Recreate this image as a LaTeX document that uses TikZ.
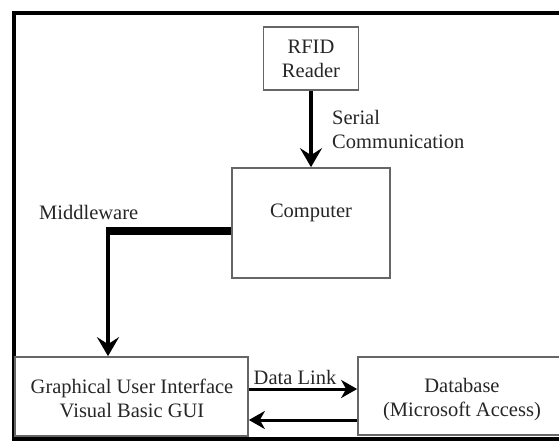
\documentclass[tikz,border=0pt]{standalone}
\usepackage{fontspec}
\setmainfont{Liberation Serif}
\usetikzlibrary{arrows.meta}
\definecolor{boxgray}{HTML}{666666}
\definecolor{txtgray}{HTML}{262626}
\begin{document}
\begin{tikzpicture}[x=1pt,y=-1pt,
  box/.style={draw=boxgray, line width=1.7pt, fill=white, inner sep=0pt},
  txt/.style={text=txtgray, font=\fontsize{20.5}{24}\selectfont, align=center, inner sep=0pt},
  bigarrow/.style={line width=4.5pt, -{Stealth[length=19pt,width=22pt,inset=7pt]}},
  linkarrow/.style={line width=3pt, -{Stealth[length=16pt,width=18pt,inset=5pt]}}
]
\useasboundingbox (0,0) rectangle (559,441);
\clip (0,0) rectangle (559,441);
\fill[white] (0,0) rectangle (559,441);
% outer frame
\draw[line width=4pt] (13.5,13.5) rectangle (620,438.5);
% boxes
\node[box, minimum width=95pt, minimum height=63pt] (rfid) at (311,58.5) {};
\node[txt] (rfidtext) at (311,59) {RFID\\Reader};
\node[box, minimum width=158pt, minimum height=110pt] (computer) at (311,223) {};
\node[txt] (computertext) at (311,213) {Computer};
\node[box, minimum width=233pt, minimum height=79pt] (gui) at (131.5,396.5) {};
\node[txt] (guitext) at (132,398.5) {Graphical User Interface\\Visual Basic GUI};
\node[box, minimum width=208pt, minimum height=78pt] (db) at (462,396) {};
\node[txt] (dbtext) at (462,399.5) {Database\\(Microsoft Access)};
% labels
\node[txt, align=left, anchor=west] (serial) at (332,129.5) {Serial\\Communication};
\node[txt, anchor=west] (middleware) at (39,212) {Middleware};
\node[txt] (datalink) at (295,377) {Data Link};
% connectors
\draw[bigarrow] (rfid.south) -- (computer.north);
\coordinate (mwcorner) at (108,231);
\draw[line width=8pt] (computer.west |- mwcorner) -- ([xshift=-2pt]mwcorner);
\draw[bigarrow] ([yshift=4pt]mwcorner) -- (gui.north -| mwcorner);
\draw[linkarrow] (gui.east |- 0,389) -- (db.west |- 0,389);
\draw[linkarrow] (db.west |- 0,420) -- (gui.east |- 0,420);
\end{tikzpicture}
\end{document}
